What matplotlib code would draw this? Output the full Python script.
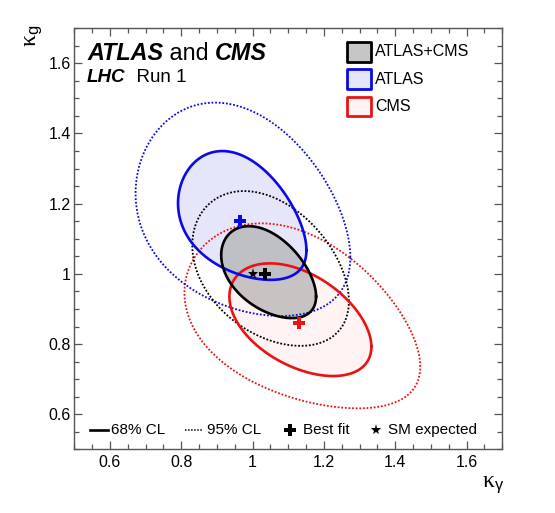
import numpy as np
import matplotlib
matplotlib.use("Agg")
import matplotlib.pyplot as plt
from matplotlib.patches import Rectangle
from matplotlib.lines import Line2D
from matplotlib.ticker import MultipleLocator

plt.rcParams['font.family'] = ['Liberation Sans', 'DejaVu Sans']
plt.rcParams['mathtext.fontset'] = 'custom'
plt.rcParams['mathtext.rm'] = 'Liberation Serif'
plt.rcParams['mathtext.sf'] = 'Liberation Sans'
plt.rcParams['mathtext.it'] = 'Liberation Sans:italic'

# ---------------- data ----------------
names = ['ATLAS+CMS', 'ATLAS', 'CMS']
line_colors = ['#000000', '#0a0ae6', '#e81414']
fill_colors = ['#aaaaaa', '#e6e6fa', '#fff3f3']
fill_alphas = [0.65, 1.0, 1.0]

# 68% CL contours: centre, half-extent in x and y, tilt and skew of the tilt
cx68 = [1.045, 0.971, 1.134]
cy68 = [1.005, 1.1665, 0.8695]
hx68 = [0.133, 0.180, 0.199]
hy68 = [0.131, 0.1835, 0.1605]
rho68 = [-0.45, -0.365, -0.445]
skew68 = [-0.08, -0.175, -0.035]

# 95% CL contours
cx95 = [1.0505, 0.973, 1.1395]
cy95 = [1.0155, 1.184, 0.8805]
hx95 = [0.2195, 0.301, 0.3305]
hy95 = [0.2205, 0.304, 0.2635]
rho95 = [-0.36, -0.30, -0.40]
skew95 = [-0.06, -0.15, -0.15]

# best fit points
bf_x = [1.035, 0.966, 1.130]
bf_y = [1.000, 1.152, 0.861]
sm_x, sm_y = 1.0, 1.0

xlim = (0.5, 1.7)
ylim = (0.5, 1.7)


def contour(cx, cy, hx, hy, rho, skew, n=500):
    t = np.linspace(0, 2 * np.pi, n)
    r = rho + skew * np.cos(t)
    x = cx + hx * np.cos(t)
    y = cy + hy * (r * np.cos(t) + np.sqrt(1 - r ** 2) * np.sin(t))
    return x, y


fig = plt.figure(figsize=(5.55, 5.13), dpi=100)
ax = fig.add_axes([74.2 / 555, 1 - 449.4 / 513, 428.1 / 555, 421.2 / 513])

# fills (CMS, ATLAS, combined)
for i in [2, 1, 0]:
    x, y = contour(cx68[i], cy68[i], hx68[i], hy68[i], rho68[i], skew68[i])
    ax.fill(x, y, color=fill_colors[i], alpha=fill_alphas[i], lw=0, zorder=1 + (2 - i) * 0.1)

# 95% dotted
for i in [2, 1, 0]:
    x, y = contour(cx95[i], cy95[i], hx95[i], hy95[i], rho95[i], skew95[i])
    ax.plot(x, y, color=line_colors[i], lw=1.3, ls=(0, (1, 1)), zorder=3)

# 68% solid
for i in [2, 1, 0]:
    x, y = contour(cx68[i], cy68[i], hx68[i], hy68[i], rho68[i], skew68[i])
    ax.plot(x, y, color=line_colors[i], lw=1.9, zorder=4, solid_joinstyle='round')

# best fits
for i in range(3):
    ax.plot(bf_x[i], bf_y[i], marker='P', ms=8, color=line_colors[i], mew=0, zorder=5)
ax.plot(sm_x, sm_y, marker='*', ms=8, color='black', mew=0, zorder=5)

ax.set_xlim(*xlim)
ax.set_ylim(*ylim)
ax.xaxis.set_major_locator(MultipleLocator(0.2))
ax.xaxis.set_minor_locator(MultipleLocator(0.05))
ax.yaxis.set_major_locator(MultipleLocator(0.2))
ax.yaxis.set_minor_locator(MultipleLocator(0.05))
ax.tick_params(which='both', direction='in', top=True, right=True, color='#555555', width=0.9)
ax.tick_params(which='major', length=6, labelsize=11.5)
ax.tick_params(which='minor', length=3.6)
ax.tick_params(axis='x', which='major', pad=4)
ax.tick_params(axis='y', which='major', pad=2.5)
for s in ax.spines.values():
    s.set_color('#555555')
    s.set_linewidth(1.0)


def fmt(v, pos):
    return '%g' % round(v, 3)


ax.xaxis.set_major_formatter(plt.FuncFormatter(fmt))
ax.yaxis.set_major_formatter(plt.FuncFormatter(fmt))

# axis labels
fig.text(504 / 555, 1 - 487 / 513, r'$\mathrm{\kappa}_{\mathsf{\gamma}}$', ha='right', va='baseline', fontsize=17)
fig.text(23 / 555, 1 - 25 / 513, r'$\mathrm{\kappa}_{\mathsf{g}}$', ha='right', va='top', rotation=90,
         fontsize=17, rotation_mode='anchor')

# title texts
t1 = ax.text((87 - 74.2) / 428.1, 1 - (60 - 28.2) / 421.2, 'ATLAS', transform=ax.transAxes,
             fontsize=16.8, fontweight='bold', fontstyle='italic', va='baseline', ha='left')
t2 = ax.annotate(' and ', xy=(1, 0), xycoords=t1, fontsize=16.8, va='bottom', ha='left')
t3 = ax.annotate('CMS', xy=(1, 0), xycoords=t2, fontsize=16.8, fontweight='bold', fontstyle='italic',
                 va='bottom', ha='left')
t4 = ax.text((87 - 74.2) / 428.1, 1 - (81.7 - 28.2) / 421.2, 'LHC', transform=ax.transAxes,
             fontsize=13.5, fontweight='bold', fontstyle='italic', va='baseline', ha='left')
t5 = ax.annotate('  Run 1', xy=(1, 0), xycoords=t4, fontsize=13.5, va='bottom', ha='left')

# legend (top right)
box_x0, box_w = 0.637, 0.056
row_y = [0.944, 0.879, 0.814]
box_h = 0.047
for i in range(3):
    r = Rectangle((box_x0, row_y[i] - box_h / 2), box_w, box_h, transform=ax.transAxes,
                  facecolor=fill_colors[i] if i else '#c6c6c6', edgecolor=line_colors[i], lw=2.0,
                  joinstyle='round', zorder=6)
    ax.add_patch(r)
    ax.text(0.703, row_y[i], names[i], transform=ax.transAxes, fontsize=11.5, va='center', ha='left', zorder=6)

# legend (bottom)
ly = 0.046
ax.add_line(Line2D([0.037, 0.080], [ly, ly], transform=ax.transAxes, color='black', lw=1.9))
ax.text(0.085, ly, '68% CL', transform=ax.transAxes, fontsize=11, va='center', ha='left')
ax.add_line(Line2D([0.259, 0.302], [ly, ly], transform=ax.transAxes, color='black', lw=1.1, ls=(0, (1, 1))))
ax.text(0.310, ly, '95% CL', transform=ax.transAxes, fontsize=11, va='center', ha='left')
ax.plot([0.504], [ly], transform=ax.transAxes, marker='P', ms=8, color='black', mew=0)
ax.text(0.534, ly, 'Best fit', transform=ax.transAxes, fontsize=11, va='center', ha='left')
ax.plot([0.704], [ly], transform=ax.transAxes, marker='*', ms=8, color='black', mew=0)
ax.text(0.734, ly, 'SM expected', transform=ax.transAxes, fontsize=11, va='center', ha='left')

fig.savefig('out.png', dpi=100)
